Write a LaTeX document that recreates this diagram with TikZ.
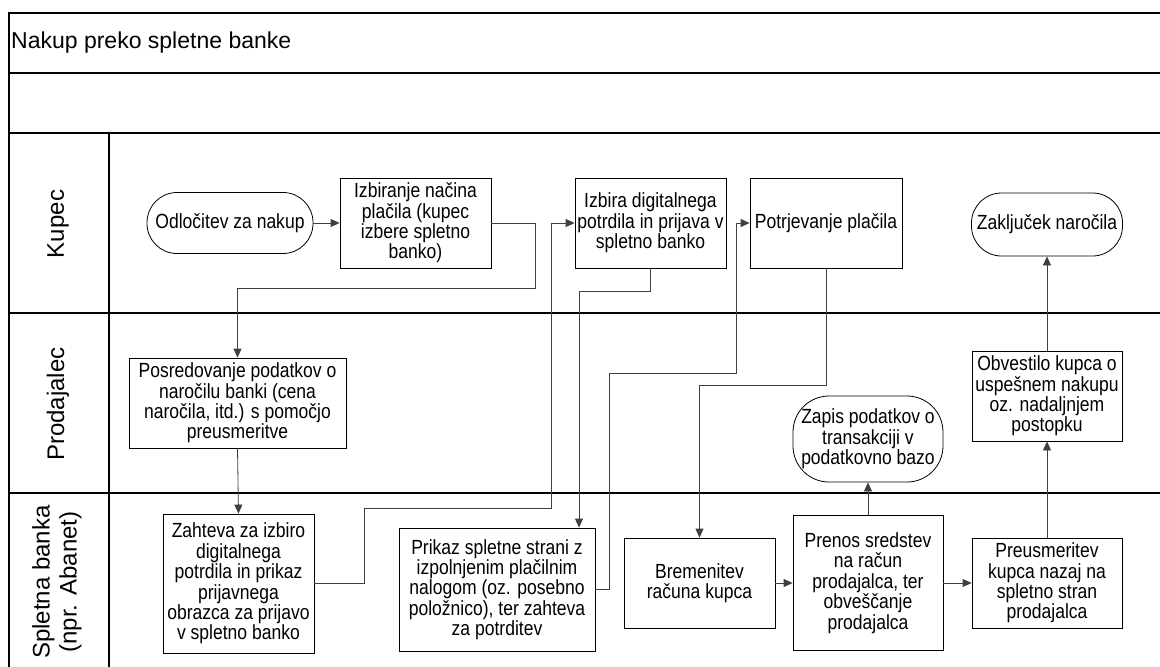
\documentclass[tikz,border=0pt]{standalone}
\usepackage{fontspec}
\setmainfont{Liberation Sans}
\newfontfamily\boxfont{Liberation Sans}[FakeStretch=0.855]
\usetikzlibrary{arrows.meta}
\begin{document}
\begin{tikzpicture}[x=1pt,y=-1pt,
  frame/.style={draw=black,line width=1.2pt},
  box/.style={draw=black,line width=0.8pt,align=center,inner sep=0pt,
    font=\boxfont\fontsize{20.5}{20.4}\selectfont},
  term/.style={box,rounded corners=30pt},
  conn/.style={draw=black!75,line width=0.8pt,-{Triangle[length=9pt,width=8pt]}},
  lane/.style={rotate=90,align=center,font=\fontsize{24}{27}\selectfont}]
\useasboundingbox (0,0) rectangle (1160,667);
% frame
\draw[frame] (9,667) -- (9,13) -- (1160,13);
\draw[frame] (9,73) -- (1160,73);
\draw[frame] (9,133) -- (1160,133);
\draw[frame] (9,313) -- (1160,313);
\draw[frame] (9,493) -- (1160,493);
\draw[frame] (109,133) -- (109,667);
\node[anchor=base west,inner sep=0pt,font=\fontsize{23}{27}\selectfont] (title) at (11,48) {Nakup preko spletne banke};
\node[lane] (lk) at (58,224) {Kupec};
\node[lane] (lp) at (58,404) {Prodajalec};
\node[lane] (ls) at (57,582) {Spletna banka\\(npr. Abanet)};
% nodes
\node[term,minimum width=166pt,minimum height=61pt] (odl) at (230,223) {Odločitev za nakup};
\node[box,minimum width=151pt,minimum height=90pt] (izb) at (415.5,223) {Izbiranje načina\\plačila (kupec\\izbere spletno\\banko)};
\node[box,minimum width=151pt,minimum height=90pt] (dig) at (650.5,223) {Izbira digitalnega\\potrdila in prijava v\\spletno banko};
\node[box,minimum width=152pt,minimum height=90pt] (pot) at (826,223) {Potrjevanje plačila};
\node[term,minimum width=151pt,minimum height=63pt] (zak) at (1047,224.5) {Zaključek naročila};
\node[box,minimum width=217pt,minimum height=90pt] (pos) at (237.5,403) {Posredovanje podatkov o\\naročilu banki (cena\\naročila, itd.) s pomočjo\\preusmeritve};
\node[box,rounded corners=36pt,minimum width=150pt,minimum height=86pt] (zap) at (868,439) {Zapis podatkov o\\transakciji v\\podatkovno bazo};
\node[box,minimum width=150pt,minimum height=90pt] (obv) at (1047,396) {Obvestilo kupca o\\uspešnem nakupu\\oz. nadaljnjem\\postopku};
\node[box,minimum width=151pt,minimum height=139pt] (zah) at (238.5,583.5) {Zahteva za izbiro\\digitalnega\\potrdila in prikaz\\prijavnega\\obrazca za prijavo\\v spletno banko};
\node[box,minimum width=196pt,minimum height=123pt] (pri) at (497,589.5) {Prikaz spletne strani z\\izpolnjenim plačilnim\\nalogom (oz. posebno\\položnico), ter zahteva\\za potrditev};
\node[box,minimum width=151pt,minimum height=90pt] (bre) at (699.5,583) {Bremenitev\\računa kupca};
\node[box,minimum width=150pt,minimum height=135pt] (pre) at (868,583) {Prenos sredstev\\na račun\\prodajalca, ter\\obveščanje\\prodajalca};
\node[box,minimum width=150pt,minimum height=90pt] (preu) at (1047,583) {Preusmeritev\\kupca nazaj na\\spletno stran\\prodajalca};
% connectors
\draw[conn] (odl.east) -- (izb.west);
\draw[conn] (izb.east) -| (535,288) -| (pos.north);
\draw[conn] (pos.south) -- (zah.north);
\draw[conn] (zah.east) -| (364,508) -| (551,223) -- (dig.west);
\draw[conn] (dig.south) |- (579,291) -- (579,0 |- pri.north);
\draw[conn] (pri.east) -| (609,373) -| (736,223) -- (pot.west);
\draw[conn] (pot.south) -- ++(0,117) -| (bre.north);
\draw[conn] (bre.east) -- (pre.west);
\draw[conn] (pre.east) -- (preu.west);
\draw[conn] (pre.north) -- (zap.south);
\draw[conn] (preu.north) -- (obv.south);
\draw[conn] (obv.north) -- (zak.south);
\end{tikzpicture}
\end{document}
